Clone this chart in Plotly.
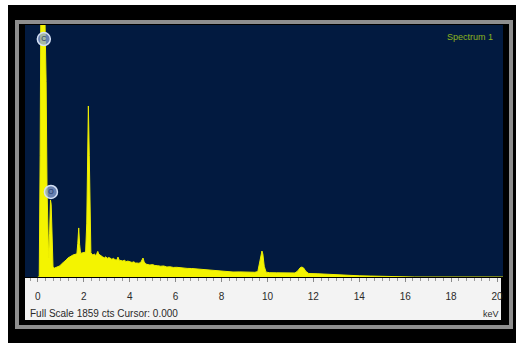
import plotly.graph_objects as go

# Spectrum (energy in keV, counts)
energy_kev = [0.00, 0.06, 0.10, 0.13, 0.30, 0.36, 0.40, 0.44, 0.47, 0.51, 0.55, 0.58, 0.62, 0.66,
              0.72, 0.80, 0.87, 0.95, 1.02, 1.09, 1.16, 1.23, 1.31, 1.38, 1.45, 1.53, 1.62, 1.70,
              1.74, 1.78, 1.82, 1.86, 1.92, 2.00, 2.08, 2.13, 2.17, 2.20, 2.24, 2.27, 2.31, 2.36,
              2.40, 2.46, 2.52, 2.57, 2.61, 2.65, 2.72, 2.78, 2.83, 2.90, 2.96, 3.02, 3.08, 3.14,
              3.22, 3.30, 3.36, 3.44, 3.49, 3.54, 3.62, 3.70, 3.78, 3.84, 3.92, 4.01, 4.10, 4.18,
              4.25, 4.31, 4.40, 4.48, 4.54, 4.58, 4.63, 4.70, 4.80, 4.88, 5.00, 5.10, 5.22, 5.35,
              5.48, 5.62, 5.75, 5.90, 6.05, 6.20, 6.32, 6.50, 6.70, 6.90, 7.06, 7.25, 7.45, 7.62,
              7.80, 8.00, 8.20, 8.50, 8.80, 9.00, 9.24, 9.45, 9.58, 9.66, 9.72, 9.76, 9.80, 9.86,
              9.94, 10.10, 10.40, 10.70, 11.00, 11.20, 11.32, 11.42, 11.50, 11.58, 11.68, 11.80,
              12.20, 12.60, 13.00, 13.50, 14.00, 14.50, 15.00, 15.50, 16.00, 16.40, 20.30]
counts = [0, 0, 900, 2000, 2000, 1450, 650, 200, 140, 320, 571, 540, 230, 75,
          66, 70, 74, 82, 95, 104, 118, 126, 141, 150, 156, 163, 168, 172,
          250, 364, 240, 176, 178, 180, 185, 400, 1000, 1269, 900, 330, 180, 168,
          163, 170, 160, 175, 190, 170, 160, 150, 148, 142, 150, 138, 145, 141,
          132, 138, 128, 126, 148, 125, 120, 119, 125, 114, 118, 111, 108, 113,
          104, 104, 102, 108, 125, 141, 112, 96, 92, 89, 92, 85, 84, 80,
          82, 74, 76, 71, 72, 68, 67, 64, 63, 60, 59, 56, 52, 50,
          45, 44, 41, 37, 38, 36, 37, 35, 40, 110, 180, 193, 170, 80,
          36, 32, 31, 30, 30, 30, 45, 68, 74, 66, 40, 26,
          24, 20, 16, 12, 9, 7, 5, 4, 3, 0, 0]

# Element markers
element_labels = ["C", "O"]
element_kev = [0.26, 0.57]
element_counts = [1766, 631]

tick_values = [0, 2, 4, 6, 8, 10, 12, 14, 16, 18, 20]
tick_labels = ["0", "2", "4", "6", "8", "10", "12", "14", "16", "18", "20"]

full_scale = 1859

W, H = 516, 345
def px(x):
    return x / W
def py(y):
    return 1 - y / H

fig = go.Figure()
fig.add_trace(go.Scatter(
    x=energy_kev, y=counts, mode="lines", fill="tozeroy",
    line=dict(color="#eeee00", width=1), fillcolor="#f4f400",
    hoverinfo="skip", showlegend=False))
fig.add_trace(go.Scatter(
    x=element_kev, y=element_counts, mode="markers+text", text=element_labels,
    textposition="middle center", textfont=dict(size=7, color="#1d3366", family="Liberation Sans"),
    marker=dict(size=13, color="rgba(140,165,215,0.75)", line=dict(color="#d4e0f5", width=1.5)),
    hoverinfo="skip", showlegend=False))

shapes = [
    # white margins around the black frame
    dict(type="rect", xref="paper", yref="paper", x0=0, x1=1, y0=py(5), y1=1,
         fillcolor="white", line=dict(width=0), layer="below"),
    dict(type="rect", xref="paper", yref="paper", x0=0, x1=px(8), y0=0, y1=1,
         fillcolor="white", line=dict(width=0), layer="below"),
    dict(type="rect", xref="paper", yref="paper", x0=0, x1=1, y0=0, y1=py(343),
         fillcolor="white", line=dict(width=0), layer="below"),
    # grey frame
    dict(type="rect", xref="paper", yref="paper", x0=px(17), x1=px(511), y0=py(327), y1=py(22),
         fillcolor="rgba(0,0,0,0)", line=dict(color="#8e8e8e", width=4), layer="below"),
    # white axis strip
    dict(type="rect", xref="paper", yref="paper", x0=px(25), x1=px(501), y0=py(320), y1=py(278),
         fillcolor="#f3f3f3", line=dict(width=0), layer="below"),
]

annotations = [
    dict(text="Spectrum 1", x=px(495), y=py(37), xref="paper", yref="paper", xanchor="right",
         yanchor="middle", showarrow=False, font=dict(size=9, color="#8db41e", family="Liberation Sans")),
    dict(text="Full Scale %d cts Cursor: 0.000" % full_scale, x=px(28), y=py(313), xref="paper",
         yref="paper", xanchor="left", yanchor="middle", showarrow=False,
         font=dict(size=10, color="#2a2a2a", family="Liberation Sans Narrow, Liberation Sans")),
    dict(text="keV", x=px(501), y=py(314), xref="paper", yref="paper", xanchor="right",
         yanchor="middle", showarrow=False,
         font=dict(size=9, color="#2a2a2a", family="Liberation Sans Narrow, Liberation Sans")),
]

fig.update_layout(
    width=W, height=H, margin=dict(l=0, r=0, t=0, b=0),
    paper_bgcolor="black", plot_bgcolor="#021a40",
    shapes=shapes, annotations=annotations, hovermode=False,
    xaxis=dict(domain=[px(25), px(503)], range=[-0.56, 20.26], showgrid=False, zeroline=False,
               tickvals=tick_values, ticktext=tick_labels, ticks="outside", ticklen=4,
               tickcolor="#8a8a8a", tickwidth=1, ticklabelstandoff=6,
               minor=dict(dtick=1/3, ticks="outside", ticklen=3, tickcolor="#9a9a9a"),
               tickfont=dict(size=10, color="#2a2a2a", family="Liberation Sans"),
               showline=False, fixedrange=True),
    yaxis=dict(domain=[py(277), py(25)], range=[0, 1870], showgrid=False, zeroline=False,
               showticklabels=False, ticks="", showline=False, fixedrange=True),
)

fig.write_html("out.html", config={"displayModeBar": False},
               post_script="document.body.style.margin='0';document.body.style.padding='0';")
